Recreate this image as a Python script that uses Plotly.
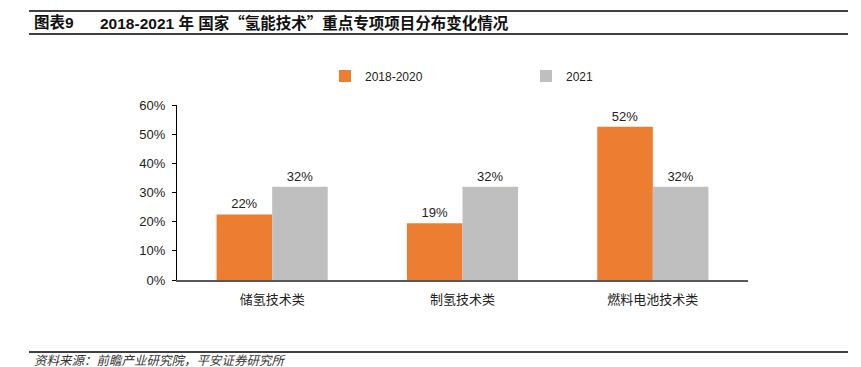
import plotly.graph_objects as go

categories = ["储氢技术类", "制氢技术类", "燃料电池技术类"]
series_names = ["2018-2020", "2021"]
values_2018_2020 = [0.225, 0.195, 0.525]
values_2021 = [0.32, 0.32, 0.32]
labels_2018_2020 = ["22%", "19%", "52%"]
labels_2021 = ["32%", "32%", "32%"]
y_ticks = [0, 0.1, 0.2, 0.3, 0.4, 0.5, 0.6]
y_tick_labels = ["0%", "10%", "20%", "30%", "40%", "50%", "60%"]

W, H = 861, 367
L, R, T, B = 177, 748, 105, 280
FONT = "Liberation Sans, Arial, Noto Sans CJK SC, sans-serif"
CJK = "Noto Sans CJK SC"


def px_x(x):
    return (x - L) / (R - L)


def px_y(y):
    return (B - y) / (B - T)


fig = go.Figure()
fig.add_trace(go.Bar(
    x=categories, y=values_2018_2020, name=series_names[0],
    marker=dict(color="#ED7D31", line=dict(width=0)),
    text=labels_2018_2020, textposition="outside",
    textfont=dict(size=13, color="#222222", family=FONT),
    cliponaxis=False,
))
fig.add_trace(go.Bar(
    x=categories, y=values_2021, name=series_names[1],
    marker=dict(color="#BFBFBF", line=dict(width=0)),
    text=labels_2021, textposition="outside",
    textfont=dict(size=13, color="#222222", family=FONT),
    cliponaxis=False,
))

shapes = []
for yy in (11, 34, 352):
    shapes.append(dict(type="line", xref="paper", yref="paper",
                       x0=px_x(29), x1=px_x(848), y0=px_y(yy), y1=px_y(yy),
                       line=dict(color="#404040", width=2)))

q_open = f'<span style="font-family:{CJK}">“</span>'
q_close = f'<span style="font-family:{CJK}">”</span>'
title_text = f"<b>2018-2021 年 国家{q_open}氢能技术{q_close}重点专项项目分布变化情况</b>"

annotations = [
    dict(text="<b>图表9</b>", xref="paper", yref="paper", x=px_x(32), y=px_y(22.5),
         xanchor="left", yanchor="middle", showarrow=False,
         font=dict(size=15.5, color="#111111", family=FONT)),
    dict(text=title_text, xref="paper", yref="paper",
         x=px_x(98), y=px_y(22.5), xanchor="left", yanchor="middle", showarrow=False,
         font=dict(size=15.5, color="#111111", family=FONT)),
    dict(text="<i>资料来源：前瞻产业研究院，平安证券研究所</i>", xref="paper", yref="paper",
         x=px_x(32), y=px_y(361), xanchor="left", yanchor="middle", showarrow=False,
         font=dict(size=12.5, color="#333333", family=FONT)),
]

fig.update_layout(
    width=W, height=H,
    margin=dict(l=L, r=W - R, t=T, b=H - B, pad=0),
    paper_bgcolor="white", plot_bgcolor="white",
    barmode="group", bargap=0.416, bargroupgap=0,
    font=dict(family=FONT, size=13, color="#222222"),
    showlegend=True,
    legend=dict(orientation="h", x=px_x(325), y=px_y(76), xanchor="left", yanchor="middle",
                entrywidth=156, font=dict(size=12, family=FONT, color="#222222"),
                bgcolor="rgba(0,0,0,0)", itemwidth=30, tracegroupgap=0),
    shapes=shapes, annotations=annotations,
    xaxis=dict(showline=True, linecolor="#595959", linewidth=2, ticks="",
               showgrid=False, tickfont=dict(size=13, family=FONT, color="#222222"),
               ticklabelstandoff=6),
    yaxis=dict(range=[0, 0.6], tickvals=y_ticks, ticktext=y_tick_labels,
               showline=True, linecolor="#000000", linewidth=1,
               ticks="outside", ticklen=4, tickcolor="#000000",
               showgrid=False, zeroline=False,
               tickfont=dict(size=13, family=FONT, color="#222222"),
               ticklabelstandoff=4),
)

fig.write_html("out.html", config={"displayModeBar": False},
               post_script="document.body.style.margin='0';document.body.style.overflow='hidden';")
